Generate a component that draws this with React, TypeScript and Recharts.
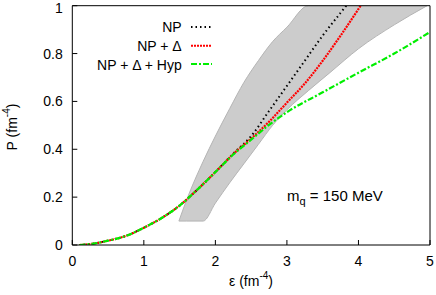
import React from "react";
import { ComposedChart, Line, Area, XAxis, YAxis } from "recharts";

const xTicks = [0, 1, 2, 3, 4, 5];
const yTicks = [0, 0.2, 0.4, 0.6, 0.8, 1];

// NP
const npEps = [0.1, 0.3, 0.5, 0.75, 1.0, 1.25, 1.5, 1.75, 2.0, 2.25, 2.5, 2.75, 3.0, 3.25, 3.5, 3.75, 3.83];
const npP = [0, 0.006, 0.018, 0.038, 0.072, 0.113, 0.165, 0.232, 0.305, 0.382, 0.455, 0.56, 0.665, 0.77, 0.875, 0.97, 1.0];

// NP + Delta
const npdEps = [0.1, 0.3, 0.5, 0.75, 1.0, 1.25, 1.5, 1.75, 2.0, 2.25, 2.5, 2.75, 3.0, 3.25, 3.5, 3.75, 4.03];
const npdP = [0, 0.006, 0.018, 0.038, 0.072, 0.113, 0.165, 0.232, 0.305, 0.38, 0.445, 0.515, 0.595, 0.675, 0.77, 0.875, 1.0];

// NP + Delta + Hyp
const hypEps = [0.1, 0.3, 0.5, 0.75, 1.0, 1.25, 1.5, 1.75, 2.0, 2.25, 2.5, 2.75, 3.0, 3.5, 4.0, 4.5, 5.0];
const hypP = [0, 0.006, 0.018, 0.038, 0.072, 0.113, 0.165, 0.232, 0.305, 0.378, 0.44, 0.502, 0.555, 0.638, 0.72, 0.8, 0.89];

// gray band
const bandEps = [1.49, 1.6, 1.83, 2.0, 2.2, 2.4, 2.6, 2.8, 3.0, 3.3, 3.6, 4.0, 4.5, 4.96];
const bandLow = [0.1, 0.1, 0.1, 0.175, 0.26, 0.34, 0.42, 0.5, 0.565, 0.645, 0.72, 0.82, 0.92, 1.0];
const bandHigh = [0.1, 0.19, 0.35, 0.455, 0.57, 0.68, 0.77, 0.85, 0.91, 1.0, 1.0, 1.0, 1.0, 1.0];

const toRows = (xs: number[], ys: number[]) => xs.map((x, i) => ({ x, y: ys[i] }));
const npData = toRows(npEps, npP);
const npdData = toRows(npdEps, npdP);
const hypData = toRows(hypEps, hypP);
const bandData = bandEps.map((x, i) => ({ x, band: [bandLow[i], bandHigh[i]] }));

const font = "'Liberation Sans', Arial, sans-serif";
const tickStyle = { fontSize: 14, fill: "#000", fontFamily: font };

export default function App() {
  return (
    <div style={{ position: "relative", width: 436, height: 295, fontFamily: font }}>
      <style>{`body{margin:0}`}</style>
      <ComposedChart width={436} height={295} margin={{ top: 4.7, right: 5, left: 0, bottom: 0 }}>
        <XAxis
          dataKey="x"
          type="number"
          domain={[0, 5]}
          ticks={xTicks}
          allowDataOverflow
          height={50}
          tickSize={-5}
          tickMargin={16}
          stroke="#000"
          tick={tickStyle}
        />
        <XAxis
          xAxisId="top"
          orientation="top"
          type="number"
          domain={[0, 5]}
          ticks={xTicks}
          height={1}
          tickSize={-5}
          tick={false}
          stroke="#000"
        />
        <YAxis
          type="number"
          domain={[0, 1]}
          ticks={yTicks}
          allowDataOverflow
          width={72.3}
          tickSize={-5}
          tickMargin={14.6}
          stroke="#000"
          tick={tickStyle}
        />
        <YAxis
          yAxisId="right"
          orientation="right"
          type="number"
          domain={[0, 1]}
          ticks={yTicks}
          width={1}
          tickSize={-5}
          tick={false}
          stroke="#000"
        />
        <Area
          data={bandData}
          dataKey="band"
          type="monotone"
          fill="#cccccc"
          fillOpacity={1}
          stroke="#b4b4b4"
          strokeWidth={1}
          isAnimationActive={false}
        />
        <Line
          data={npData}
          dataKey="y"
          type="monotone"
          stroke="#000"
          strokeWidth={2}
          strokeDasharray="1.5 3"
          dot={false}
          isAnimationActive={false}
        />
        <Line
          data={npdData}
          dataKey="y"
          type="monotone"
          stroke="#ff0000"
          strokeWidth={2.2}
          strokeDasharray="2 1"
          dot={false}
          isAnimationActive={false}
        />
        <Line
          data={hypData}
          dataKey="y"
          type="monotone"
          stroke="#00ee00"
          strokeWidth={2.2}
          strokeDasharray="6 2 2 2"
          dot={false}
          isAnimationActive={false}
        />
      </ComposedChart>
      <svg
        width={436}
        height={295}
        style={{ position: "absolute", left: 0, top: 0, pointerEvents: "none" }}
        fontFamily={font}
      >
        <g fontSize={14} textAnchor="end">
          <text x={181.7} y={32}>NP</text>
          <text x={181.7} y={51}>NP + Δ</text>
          <text x={181.7} y={69.5}>NP + Δ + Hyp</text>
        </g>
        <line x1={191} x2={212} y1={27} y2={27} stroke="#000" strokeWidth={2} strokeDasharray="1.5 3" />
        <line x1={191} x2={212} y1={45.7} y2={45.7} stroke="#ff0000" strokeWidth={2} strokeDasharray="2 1" />
        <line x1={191} x2={212} y1={64} y2={64} stroke="#00ee00" strokeWidth={2} strokeDasharray="6 2 2 2" />
        <text x={287} y={200.5} fontSize={15}>
          m<tspan fontSize={11} dy={4}>q</tspan>
          <tspan dy={-4}> = 150 MeV</tspan>
        </text>
        <text x={251} y={286} fontSize={14} textAnchor="middle">
          ε (fm<tspan fontSize={10} dy={-7}>-4</tspan>
          <tspan dy={7}>)</tspan>
        </text>
        <text x={0} y={0} fontSize={14} textAnchor="middle" transform="translate(17,127) rotate(-90)">
          P (fm<tspan fontSize={10} dy={-7}>-4</tspan>
          <tspan dy={7}>)</tspan>
        </text>
      </svg>
    </div>
  );
}
